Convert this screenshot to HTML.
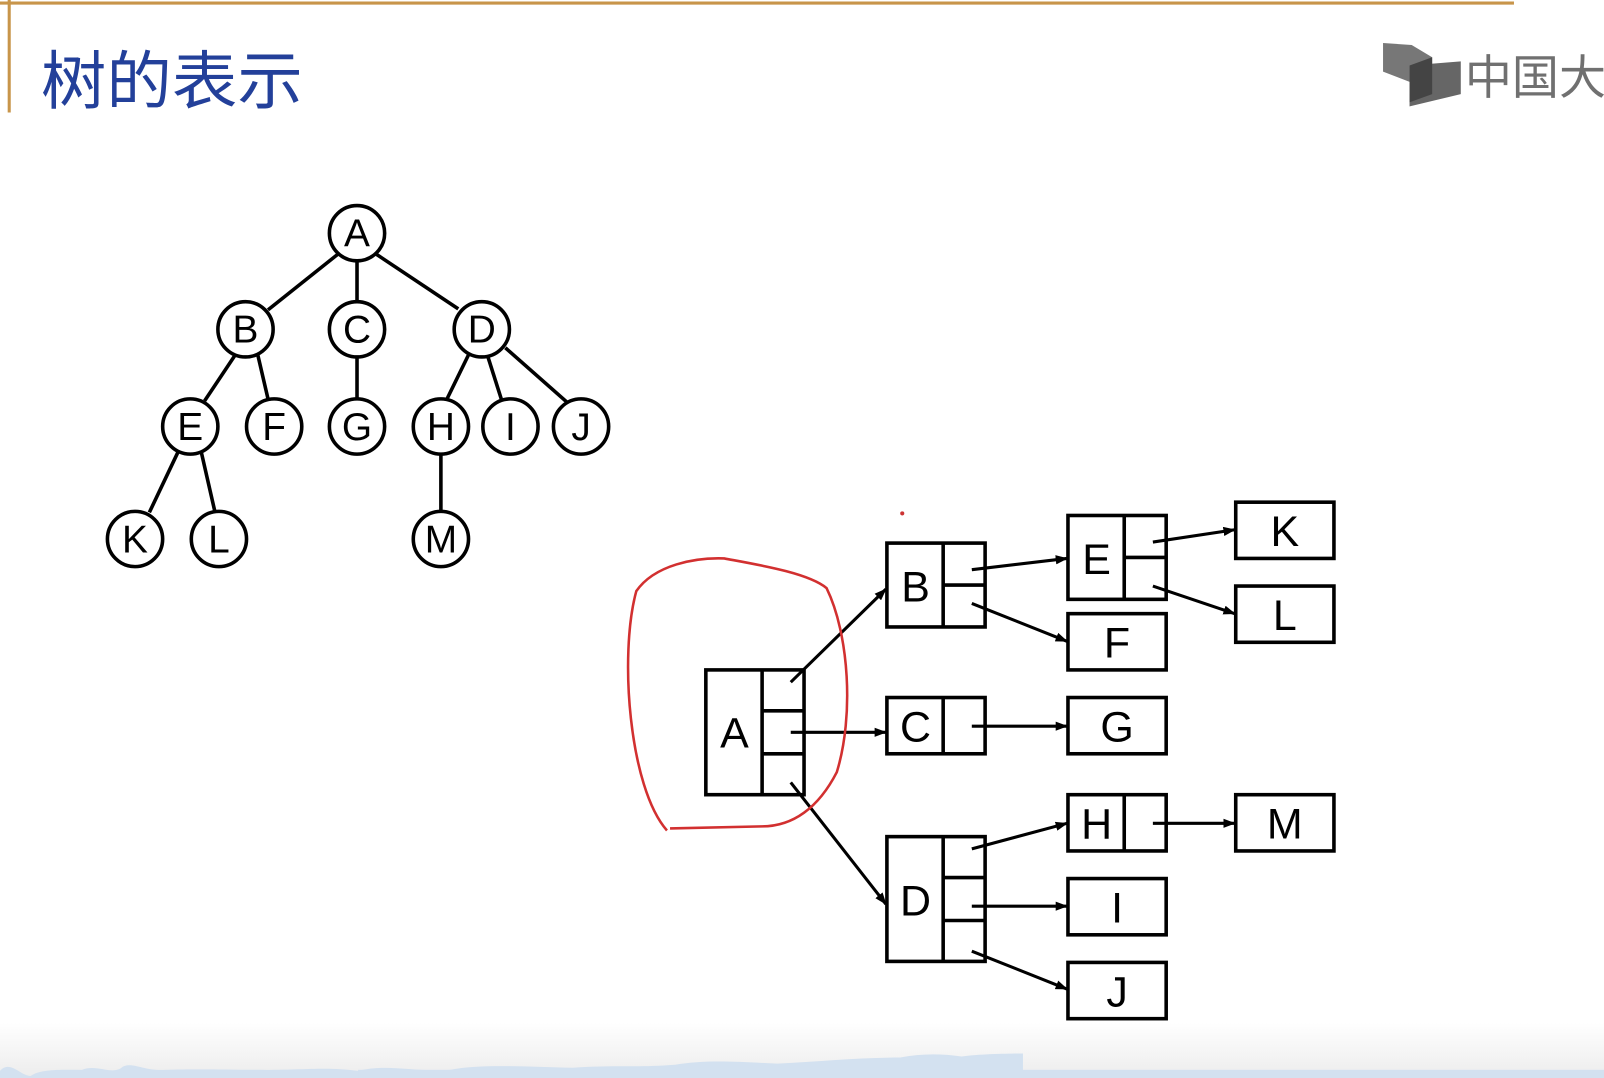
<!DOCTYPE html>
<html><head><meta charset="utf-8"><style>
html,body{margin:0;padding:0;background:#fff;}
svg{display:block;}
</style></head><body>
<svg width="1604" height="1078" viewBox="0 0 1568 1054" preserveAspectRatio="none" xmlns="http://www.w3.org/2000/svg">
<defs>
<linearGradient id="bg" x1="0" y1="0" x2="0" y2="1">
<stop offset="0" stop-color="#ffffff"/><stop offset="1" stop-color="#ececec"/>
</linearGradient>
<marker id="ar" markerWidth="12" markerHeight="9" refX="11" refY="4.5" orient="auto" markerUnits="userSpaceOnUse">
<path d="M0,0 L12,4.5 L0,9 z" fill="#000"/>
</marker>
</defs>
<rect x="0" y="0" width="1568" height="1054" fill="#fff"/>
<rect x="0" y="1000" width="1568" height="54" fill="url(#bg)"/>
<path d="M0,1047 C10,1036 20,1052 30,1052 C40,1045 60,1046 80,1046 C95,1040 110,1052 120,1043 C130,1038 140,1047 160,1046 C200,1045 220,1046 260,1046 C300,1046 320,1043 350,1047 C380,1040 400,1048 440,1046 C470,1040 520,1043 560,1044 C600,1041 620,1044 660,1041 C690,1036 720,1038 760,1040 C800,1038 840,1034 880,1034 C900,1030 920,1030 940,1033 C960,1030 1000,1030 1000,1030 L1000,1054 L0,1054 Z" fill="#d3e1f0"/>
<rect x="350" y="1046" width="1218" height="8" fill="#d3e1f0"/>
<line x1="0" y1="3" x2="1480" y2="3" stroke="#c8954a" stroke-width="3"/>
<line x1="9" y1="0" x2="9" y2="110" stroke="#c8954a" stroke-width="3"/>
<text x="40" y="101" font-family="'Liberation Sans','Noto Sans CJK SC',sans-serif" font-size="62" fill="#23409a" textLength="256" lengthAdjust="spacingAndGlyphs">树的表示</text>
<!-- logo -->
<path d="M1352,42 L1380,44 L1400,56 L1400,92 L1378,104 L1378,80 L1352,70 Z" fill="#777"/>
<path d="M1378,64 L1428,60 L1428,92 L1378,104 Z" fill="#666"/>
<path d="M1378,64 L1400,56 L1400,92 L1378,100 Z" fill="#444"/>
<text x="1432" y="92" font-family="'Noto Sans CJK SC',sans-serif" font-size="46" fill="#707070">中国大</text>
<!-- tree -->
<g stroke="#000" stroke-width="3.5" fill="none">
<line x1="331" y1="248" x2="262" y2="303"/>
<line x1="349" y1="255" x2="349" y2="295"/>
<line x1="367" y1="248" x2="448" y2="302"/>
<line x1="230" y1="347" x2="200" y2="392"/>
<line x1="252" y1="347" x2="262" y2="390"/>
<line x1="349" y1="349" x2="349" y2="390"/>
<line x1="458" y1="347" x2="437" y2="390"/>
<line x1="477" y1="349" x2="490" y2="390"/>
<line x1="494" y1="340" x2="554" y2="393"/>
<line x1="174" y1="442" x2="146" y2="501"/>
<line x1="197" y1="443" x2="210" y2="500"/>
<line x1="431" y1="444" x2="431" y2="500"/>
</g>
<g stroke="#000" stroke-width="3.5" fill="#fff">
<circle cx="349" cy="228" r="27"/><circle cx="240" cy="322" r="27"/><circle cx="349" cy="322" r="27"/><circle cx="471" cy="322" r="27"/>
<circle cx="186" cy="417" r="27"/><circle cx="268" cy="417" r="27"/><circle cx="349" cy="417" r="27"/><circle cx="431" cy="417" r="27"/><circle cx="499" cy="417" r="27"/><circle cx="568" cy="417" r="27"/>
<circle cx="132" cy="527" r="27"/><circle cx="214" cy="527" r="27"/><circle cx="431" cy="527" r="27"/>
</g>
<g font-family="'Liberation Sans',sans-serif" font-size="38" text-anchor="middle" fill="#000">
<text x="349" y="241">A</text><text x="240" y="335">B</text><text x="349" y="335">C</text><text x="471" y="335">D</text>
<text x="186" y="430">E</text><text x="268" y="430">F</text><text x="349" y="430">G</text><text x="431" y="430">H</text><text x="499" y="430">I</text><text x="568" y="430">J</text>
<text x="132" y="540">K</text><text x="214" y="540">L</text><text x="431" y="540">M</text>
</g>
<!-- boxes -->
<g stroke="#000" stroke-width="3.5" fill="#fff">
<rect x="690" y="655" width="96" height="122"/><line x1="745" y1="655" x2="745" y2="777"/><line x1="745" y1="695" x2="786" y2="695"/><line x1="745" y1="737" x2="786" y2="737"/>
<rect x="867" y="531" width="96" height="82"/><line x1="922" y1="531" x2="922" y2="613"/><line x1="922" y1="572" x2="963" y2="572"/>
<rect x="867" y="682" width="96" height="55"/><line x1="922" y1="682" x2="922" y2="737"/>
<rect x="867" y="818" width="96" height="122"/><line x1="922" y1="818" x2="922" y2="940"/><line x1="922" y1="858" x2="963" y2="858"/><line x1="922" y1="900" x2="963" y2="900"/>
<rect x="1044" y="504" width="96" height="82"/><line x1="1099" y1="504" x2="1099" y2="586"/><line x1="1099" y1="545" x2="1140" y2="545"/>
<rect x="1044" y="600" width="96" height="55"/>
<rect x="1044" y="682" width="96" height="55"/>
<rect x="1044" y="777" width="96" height="55"/><line x1="1099" y1="777" x2="1099" y2="832"/>
<rect x="1044" y="859" width="96" height="55"/>
<rect x="1044" y="941" width="96" height="55"/>
<rect x="1208" y="491" width="96" height="55"/>
<rect x="1208" y="573" width="96" height="55"/>
<rect x="1208" y="777" width="96" height="55"/>
</g>
<g font-family="'Liberation Sans',sans-serif" font-size="42" text-anchor="middle" fill="#000">
<text x="718" y="731">A</text><text x="895" y="588">B</text><text x="895" y="725">C</text><text x="895" y="895">D</text>
<text x="1072" y="561">E</text><text x="1092" y="643">F</text><text x="1092" y="725">G</text><text x="1072" y="820">H</text><text x="1092" y="902">I</text><text x="1092" y="984">J</text>
<text x="1256" y="534">K</text><text x="1256" y="616">L</text><text x="1256" y="820">M</text>
</g>
<g stroke="#000" stroke-width="3" marker-end="url(#ar)">
<line x1="773" y1="667" x2="866" y2="576"/>
<line x1="773" y1="716" x2="866" y2="716"/>
<line x1="773" y1="765" x2="866" y2="884"/>
<line x1="950" y1="557" x2="1043" y2="546"/>
<line x1="950" y1="590" x2="1043" y2="627"/>
<line x1="950" y1="710" x2="1043" y2="710"/>
<line x1="1127" y1="530" x2="1207" y2="518"/>
<line x1="1127" y1="573" x2="1207" y2="600"/>
<line x1="1127" y1="805" x2="1207" y2="805"/>
<line x1="950" y1="830" x2="1043" y2="805"/>
<line x1="950" y1="886" x2="1043" y2="886"/>
<line x1="950" y1="930" x2="1043" y2="967"/>
</g>
<circle cx="882" cy="502" r="2" fill="#c33"/>
<path d="M652,812 C615,770 605,640 622,578 C640,552 680,545 708,546 C740,552 790,560 808,575 C830,620 835,700 818,755 C800,790 775,808 745,808 L655,810" fill="none" stroke="#d23030" stroke-width="2.5"/>
</svg>
</body></html>
